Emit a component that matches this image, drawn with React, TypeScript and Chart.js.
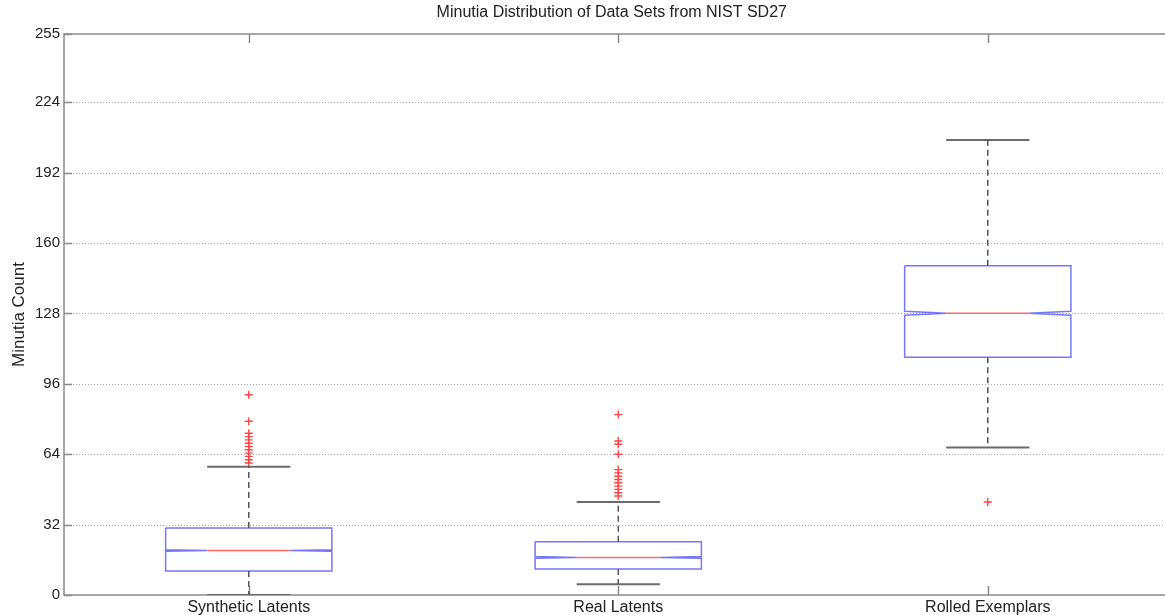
import React, { useEffect, useRef } from "react";
import { Chart, registerables } from "chart.js";

Chart.register(...registerables);

// ---- data ----
const categories = ["Synthetic Latents", "Real Latents", "Rolled Exemplars"];
const lowerWhisker = [0, 4.9, 67];
const q1 = [10.9, 11.8, 108.1];
const median = [20.2, 17.1, 128.1];
const q3 = [30.4, 24.2, 149.7];
const upperWhisker = [58.3, 42.3, 206.8];
const notchHalf = [0.35, 0.35, 0.9];
const outliersSynthetic = [91, 79, 73.5, 72, 70.5, 69, 67.5, 66, 64.5, 63, 61.5, 60];
const outliersReal = [82, 70, 68.5, 64, 57, 55.5, 54, 52.5, 51, 49.5, 48, 46.5, 45];
const outliersRolled = [42.3];
const outliers = [outliersSynthetic, outliersReal, outliersRolled];
const yTicks = [0, 32, 64, 96, 128, 160, 192, 224, 255];

const TITLE = "Minutia Distribution of Data Sets from NIST SD27";
const Y_TITLE = "Minutia Count";

const BOX_HALF = 0.225;
const BOX_COLOR = "rgb(118,118,250)";
const MED_COLOR = "rgb(255,105,105)";
const WHISKER_COLOR = "#555555";
const CAP_COLOR = "#6a6a6a";
const OUT_COLOR = "rgb(255,70,70)";
const AXIS_COLOR = "#8a8a8a";

const seg = (data: any[], color: string, width: number, dash: number[] = []) => ({
  type: "scatter" as const,
  xAxisID: "x",
  yAxisID: "y",
  data,
  showLine: true,
  pointRadius: 0,
  pointHoverRadius: 0,
  borderColor: color,
  backgroundColor: color,
  borderWidth: width,
  borderDash: dash,
  fill: false,
  tension: 0,
});

function buildDatasets() {
  const ds: any[] = [];
  categories.forEach((_, i) => {
    const c = i + 1;
    const hw = BOX_HALF;
    const qw = hw / 2;
    const n = notchHalf[i];
    ds.push(seg([{ x: c, y: q3[i] }, { x: c, y: upperWhisker[i] }], WHISKER_COLOR, 1.5, [6, 4]));
    ds.push(seg([{ x: c, y: q1[i] }, { x: c, y: lowerWhisker[i] }], WHISKER_COLOR, 1.5, [6, 4]));
    ds.push(seg([{ x: c - qw, y: upperWhisker[i] }, { x: c + qw, y: upperWhisker[i] }], CAP_COLOR, 2));
    ds.push(seg([{ x: c - qw, y: lowerWhisker[i] }, { x: c + qw, y: lowerWhisker[i] }], CAP_COLOR, 2));
    ds.push(
      seg(
        [
          { x: c - hw, y: q3[i] },
          { x: c - hw, y: median[i] + n },
          { x: c - qw, y: median[i] },
          { x: c - hw, y: median[i] - n },
          { x: c - hw, y: q1[i] },
          { x: c + hw, y: q1[i] },
          { x: c + hw, y: median[i] - n },
          { x: c + qw, y: median[i] },
          { x: c + hw, y: median[i] + n },
          { x: c + hw, y: q3[i] },
          { x: c - hw, y: q3[i] },
        ],
        BOX_COLOR,
        1.5
      )
    );
    ds.push(seg([{ x: c - qw, y: median[i] }, { x: c + qw, y: median[i] }], MED_COLOR, 1.5));
    ds.push({
      type: "scatter" as const,
      xAxisID: "x",
      yAxisID: "y",
      data: outliers[i].map((v) => ({ x: c, y: v })),
      showLine: false,
      pointStyle: "cross",
      pointRadius: 4,
      pointHoverRadius: 4,
      borderColor: OUT_COLOR,
      backgroundColor: OUT_COLOR,
      borderWidth: 1.4,
    });
  });
  return ds;
}

const framePlugin = {
  id: "matlabFrame",
  beforeDatasetsDraw(chart: any) {
    const { ctx, chartArea: a, scales } = chart;
    const x = scales.x;
    const y = scales.y;
    const right = chart.width;
    ctx.save();
    ctx.strokeStyle = "#a8a8a8";
    ctx.lineWidth = 1;
    ctx.setLineDash([1, 2]);
    yTicks.forEach((v) => {
      if (v === 0 || v === 255) return;
      const py = Math.round(y.getPixelForValue(v)) + 0.5;
      ctx.beginPath();
      ctx.moveTo(a.left, py);
      ctx.lineTo(right, py);
      ctx.stroke();
    });
    ctx.setLineDash([]);
    ctx.strokeStyle = AXIS_COLOR;
    ctx.lineWidth = 1.5;
    ctx.beginPath();
    ctx.moveTo(right, a.top);
    ctx.lineTo(a.left, a.top);
    ctx.lineTo(a.left, a.bottom);
    ctx.lineTo(right, a.bottom);
    ctx.stroke();
    ctx.beginPath();
    yTicks.forEach((v) => {
      const py = Math.round(y.getPixelForValue(v)) + 0.5;
      ctx.moveTo(a.left, py);
      ctx.lineTo(a.left + 8, py);
    });
    categories.forEach((_, i) => {
      const px = Math.round(x.getPixelForValue(i + 1)) + 0.5;
      ctx.moveTo(px, a.top);
      ctx.lineTo(px, a.top + 9);
      ctx.moveTo(px, a.bottom);
      ctx.lineTo(px, a.bottom - 9);
    });
    ctx.stroke();
    ctx.restore();
  },
};

export default function App() {
  const ref = useRef<HTMLCanvasElement | null>(null);

  useEffect(() => {
    if (!ref.current) return;
    Chart.defaults.font.family = "'Liberation Sans', Arial, sans-serif";
    const chart = new Chart(ref.current, {
      type: "scatter",
      data: { datasets: buildDatasets() },
      options: {
        animation: false,
        responsive: false,
        maintainAspectRatio: false,
        layout: { padding: 0 },
        plugins: {
          legend: { display: false },
          tooltip: { enabled: false },
          title: { display: false },
        },
        scales: {
          x: {
            type: "linear",
            position: "bottom",
            min: 0.5,
            max: 3.465,
            grid: { display: false, drawTicks: false },
            border: { display: false },
            afterBuildTicks: (scale: any) => {
              scale.ticks = categories.map((_, i) => ({ value: i + 1 }));
            },
            afterFit: (scale: any) => {
              scale.height = 20;
            },
            ticks: {
              autoSkip: false,
              maxRotation: 0,
              padding: 3,
              color: "#222",
              font: { size: 16 },
              callback: (_v: any, index: number) => categories[index],
            },
          },
          xTop: {
            type: "linear",
            position: "top",
            min: 0,
            max: 1,
            grid: { display: false, drawTicks: false },
            border: { display: false },
            ticks: { display: false },
            afterFit: (scale: any) => {
              scale.height = 34;
            },
            title: {
              display: true,
              text: TITLE,
              color: "#222",
              font: { size: 16 },
              padding: { top: 3, bottom: 0 },
            },
          },
          y: {
            type: "linear",
            min: 0,
            max: 255,
            grid: { display: false, drawTicks: false },
            border: { display: false },
            afterBuildTicks: (scale: any) => {
              scale.ticks = yTicks.map((v) => ({ value: v }));
            },
            afterFit: (scale: any) => {
              scale.width = 64;
            },
            ticks: {
              padding: 4,
              color: "#222",
              font: { size: 15 },
              callback: (v: any) => String(v),
            },
            title: {
              display: true,
              text: Y_TITLE,
              color: "#222",
              font: { size: 17 },
              padding: { top: 9, bottom: 0 },
            },
          },
        },
      },
      plugins: [framePlugin],
    });
    return () => chart.destroy();
  }, []);

  return (
    <div style={{ position: "absolute", left: 0, top: 0, width: 1165, height: 615, background: "#fff" }}>
      <canvas ref={ref} width={1165} height={615} style={{ display: "block" }} />
    </div>
  );
}
